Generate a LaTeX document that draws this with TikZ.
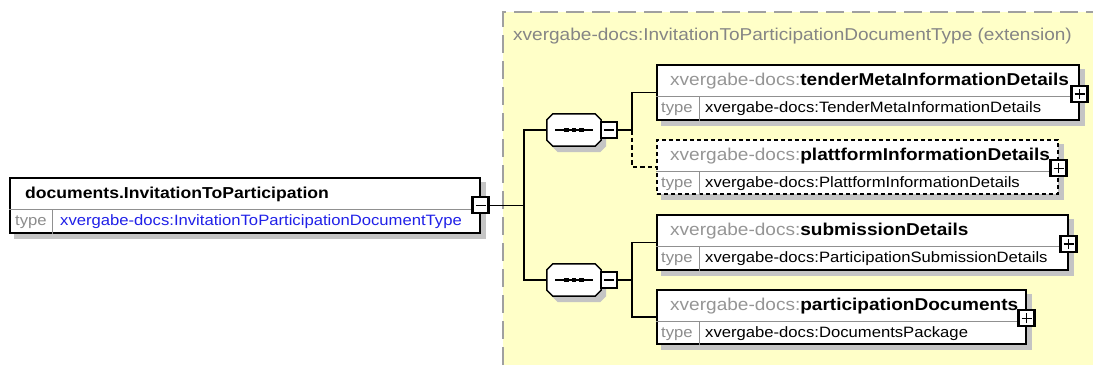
\documentclass[tikz,border=0pt]{standalone}
\usepackage{fontspec}
\setmainfont{Liberation Sans}[FakeStretch=1.11]
\usetikzlibrary{backgrounds}
\definecolor{bgyellow}{HTML}{FFFFC8}
\definecolor{shadowgray}{HTML}{C4C4C4}
\definecolor{dashgray}{HTML}{A0A0A0}
\definecolor{nsgray}{HTML}{959595}
\definecolor{typegray}{HTML}{8C8C8C}
\definecolor{titlegray}{HTML}{858585}
\definecolor{divgray}{HTML}{909090}
\definecolor{linkblue}{HTML}{2020E8}
\newcommand{\fsmall}{\fontsize{15}{17}\selectfont}
\newcommand{\flarge}{\fontsize{17.15}{19}\selectfont}
\newcommand{\fname}{\fontsize{15.85}{18}\selectfont\bfseries}
\newcommand{\octopath}[3]{([xshift=6pt+#2,yshift=#3]#1.north west) -- ([xshift=-6pt+#2,yshift=#3]#1.north east) -- ([xshift=#2,yshift=-6pt+#3]#1.north east) -- ([xshift=#2,yshift=6pt+#3]#1.south east) -- ([xshift=-6pt+#2,yshift=#3]#1.south east) -- ([xshift=6pt+#2,yshift=#3]#1.south west) -- ([xshift=#2,yshift=6pt+#3]#1.south west) -- ([xshift=#2,yshift=-6pt+#3]#1.north west) -- cycle}
\tikzset{
  elbox/.style={draw=black, line width=1.5pt, fill=white, inner sep=0, anchor=north west, minimum height=55pt},
  optbox/.style={elbox, dash pattern=on 4pt off 3pt},
  conn/.style={line width=1.5pt, draw=black},
  optconn/.style={conn, dash pattern=on 4.5pt off 3pt},
  pmbox/.style={draw=black, line width=2.2pt, fill=white, minimum width=16pt, minimum height=16pt, inner sep=0},
  lbl/.style={inner sep=0, anchor=base west},
  seqbox/.style={inner sep=0, minimum width=54pt, minimum height=32pt},
  divline/.style={draw=divgray, line width=0.8pt},
}
\newcommand{\minussign}[1]{\draw[line width=1.5pt] ([xshift=-5pt]#1.center) -- ([xshift=5pt]#1.center);}
\newcommand{\plussign}[1]{\draw[line width=1.5pt] ([xshift=-5pt]#1.center) -- ([xshift=5pt]#1.center) ([yshift=-5pt]#1.center) -- ([yshift=5pt]#1.center);}
\newcommand{\dividers}[1]{\draw[divline] ([yshift=-32pt]#1.north west) -- ([yshift=-32pt]#1.north east) ([xshift=43.5pt,yshift=-32pt]#1.north west) -- ([xshift=43.5pt]#1.south west);}
\begin{document}
\begin{tikzpicture}[x=1pt,y=-1pt]
\useasboundingbox (0,0) rectangle (1093,365);

% main element
\node[elbox, minimum width=470pt] (main) at (9,177) {};
\dividers{main}
\node[lbl] (mainname) at ([xshift=16pt,yshift=-21pt]main.north west) {\fname documents.InvitationToParticipation};
\node[lbl, text=typegray] (maintl) at ([xshift=6pt,yshift=-48pt]main.north west) {\fsmall type};
\node[lbl, text=linkblue] (maintype) at ([xshift=51pt,yshift=-48pt]main.north west) {\fsmall xvergabe-docs:InvitationToParticipationDocumentType};
\node[pmbox] (mminus) at (main.east) {};
\minussign{mminus}

% extension title
\node[lbl, text=titlegray] (title) at (513,40) {\flarge xvergabe-docs:InvitationToParticipationDocumentType (extension)};

% sequences
\node[seqbox] (seq1) at (574,130) {};
\node[seqbox] (seq2) at (574,280) {};
\foreach \s in {seq1,seq2}{
  \draw[conn, fill=white] \octopath{\s}{0pt}{0pt};
  \draw[line width=1.4pt] ([xshift=-19pt]\s.center) -- ([xshift=19pt]\s.center);
  \foreach \dx in {-7.5,0,7.5}
    \fill ([xshift=\dx pt-2.2pt,yshift=-2.2pt]\s.center) rectangle ([xshift=\dx pt+2.2pt,yshift=2.2pt]\s.center);
}
\node[pmbox] (s1m) at ([xshift=8pt]seq1.east) {};
\node[pmbox] (s2m) at ([xshift=8pt]seq2.east) {};
\minussign{s1m}
\minussign{s2m}

% child elements
\node[elbox, minimum width=422pt] (e1) at (656,64) {};
\node[optbox, minimum width=401pt, minimum height=54pt] (e2) at (656,139) {};
\node[elbox, minimum width=411pt] (e3) at (656,214) {};
\node[elbox, minimum width=369pt, minimum height=54pt] (e4) at (656,289) {};
\foreach \e in {e1,e2,e3,e4}{\dividers{\e}}

\node[lbl] (e1n) at ([xshift=14pt,yshift=-21pt]e1.north west) {\flarge\textcolor{nsgray}{xvergabe-docs:}\textbf{tenderMetaInformationDetails}};
\node[lbl, text=typegray] (e1tl) at ([xshift=5pt,yshift=-48pt]e1.north west) {\fsmall type};
\node[lbl] (e1t) at ([xshift=49pt,yshift=-48pt]e1.north west) {\fsmall xvergabe-docs:TenderMetaInformationDetails};

\node[lbl] (e2n) at ([xshift=14pt,yshift=-21pt]e2.north west) {\flarge\textcolor{nsgray}{xvergabe-docs:}\textbf{plattformInformationDetails}};
\node[lbl, text=typegray] (e2tl) at ([xshift=5pt,yshift=-48pt]e2.north west) {\fsmall type};
\node[lbl] (e2t) at ([xshift=49pt,yshift=-48pt]e2.north west) {\fsmall xvergabe-docs:PlattformInformationDetails};

\node[lbl] (e3n) at ([xshift=14pt,yshift=-21pt]e3.north west) {\flarge\textcolor{nsgray}{xvergabe-docs:}\textbf{submissionDetails}};
\node[lbl, text=typegray] (e3tl) at ([xshift=5pt,yshift=-48pt]e3.north west) {\fsmall type};
\node[lbl] (e3t) at ([xshift=49pt,yshift=-48pt]e3.north west) {\fsmall xvergabe-docs:ParticipationSubmissionDetails};

\node[lbl] (e4n) at ([xshift=14pt,yshift=-21pt]e4.north west) {\flarge\textcolor{nsgray}{xvergabe-docs:}\textbf{participationDocuments}};
\node[lbl, text=typegray] (e4tl) at ([xshift=5pt,yshift=-48pt]e4.north west) {\fsmall type};
\node[lbl] (e4t) at ([xshift=49pt,yshift=-48pt]e4.north west) {\fsmall xvergabe-docs:DocumentsPackage};

\foreach \e/\p in {e1/p1,e2/p2,e3/p3,e4/p4}{
  \node[pmbox] (\p) at ([yshift=-1.5pt]\e.east) {};
  \plussign{\p}
}

% connectors
\coordinate (t1) at (524,0);
\coordinate (t2) at (632,0);
\draw[conn] (mminus.east) -- (mminus.east -| t1);
\draw[conn] (seq1.west) -- (seq1.west -| t1) -- (seq2.west -| t1) -- (seq2.west);
\draw[conn] (s1m.east) -- (s1m.east -| t2) -- (e1.west -| t2) -- (e1.west);
\draw[optconn] (s1m.east -| t2) -- (e2.west -| t2) -- (e2.west);
\draw[conn] (s2m.east) -- (s2m.east -| t2);
\draw[conn] (e3.west) -- (e3.west -| t2) -- (e4.west -| t2) -- (e4.west);

% background: yellow region and shadows
\begin{scope}[on background layer]
  \fill[bgyellow] (503,12) rectangle (1093,365);
  \draw[dashgray, line width=1.5pt, dash pattern=on 18pt off 8pt] (503,365) -- (503,12) -- (1093,12);
  \foreach \n in {main,e1,e2,e3,e4}
    \fill[shadowgray] ([xshift=5pt,yshift=-5pt]\n.north west) rectangle ([xshift=5pt,yshift=-5pt]\n.south east);
  \foreach \s in {seq1,seq2}
    \fill[shadowgray] \octopath{\s}{5pt}{-6pt};
\end{scope}
\end{tikzpicture}
\end{document}
